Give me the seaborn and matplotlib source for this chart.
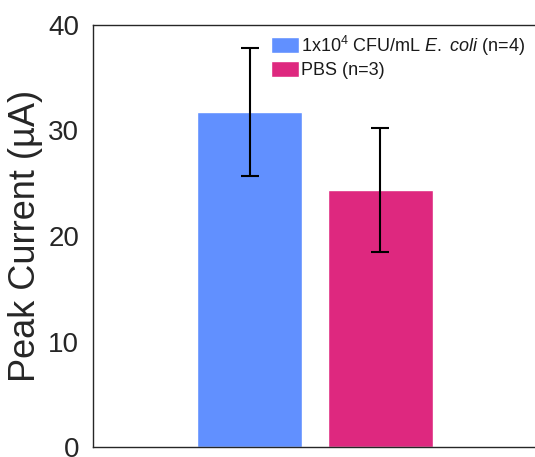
import matplotlib
matplotlib.use("Agg")
import matplotlib.pyplot as plt
import seaborn as sns
import pandas as pd

# Peak current per sample group (mean ± SD)
groups = ["1x10$^4$ CFU/mL $\\it{E.\\ coli}$ (n=4)", "PBS (n=3)"]
means = [31.75, 24.35]
errors = [6.05, 5.85]
colors = ["#6190FF", "#DE287F"]
yticks = [0, 10, 20, 30, 40]

sns.set_style("white")
plt.rcParams["font.family"] = ["Liberation Sans", "DejaVu Sans"]
plt.rcParams["mathtext.fontset"] = "custom"
plt.rcParams["mathtext.rm"] = "Liberation Sans"
plt.rcParams["mathtext.it"] = "Liberation Sans:italic"

df = pd.DataFrame({"group": groups, "current": means})

fig = plt.figure(figsize=(5.35, 4.57), dpi=100)
ax = fig.add_axes([93 / 535, 10 / 457, 441 / 535, 422 / 457])

sns.barplot(data=df, x="group", y="current", hue="group", palette=colors,
            width=0.8, dodge=False, saturation=1, legend=True, ax=ax)

centers = [p.get_x() + p.get_width() / 2 for p in ax.patches[:len(means)]]
ax.errorbar(centers, means, yerr=errors, fmt="none", ecolor="black",
            elinewidth=1.5, capsize=6.5, capthick=1.5)

ax.set_xlim(-1.195, 2.172)
ax.set_ylim(0, 40)
ax.set_yticks(yticks)
ax.set_yticklabels([str(t) for t in yticks])
ax.set_xticks([])
ax.set_xlabel("")
ax.set_ylabel("Peak Current (µA)", fontsize=26, color="#262626", labelpad=4)
ax.tick_params(axis="y", direction="in", length=4, width=1, colors="#262626",
               labelsize=20, pad=10)

for side in ["left", "bottom", "top"]:
    ax.spines[side].set_visible(True)
    ax.spines[side].set_color("#262626")
    ax.spines[side].set_linewidth(1)
ax.spines["right"].set_visible(False)

leg = ax.legend(loc="upper left", bbox_to_anchor=(0.375, 1.01), frameon=False,
                fontsize=13, handlelength=1.55, handleheight=1.0,
                handletextpad=0.1, labelspacing=0.2, borderpad=0.2)
for txt in leg.get_texts():
    txt.set_color("#1a1a1a")

fig.savefig("out.png", dpi=100)
